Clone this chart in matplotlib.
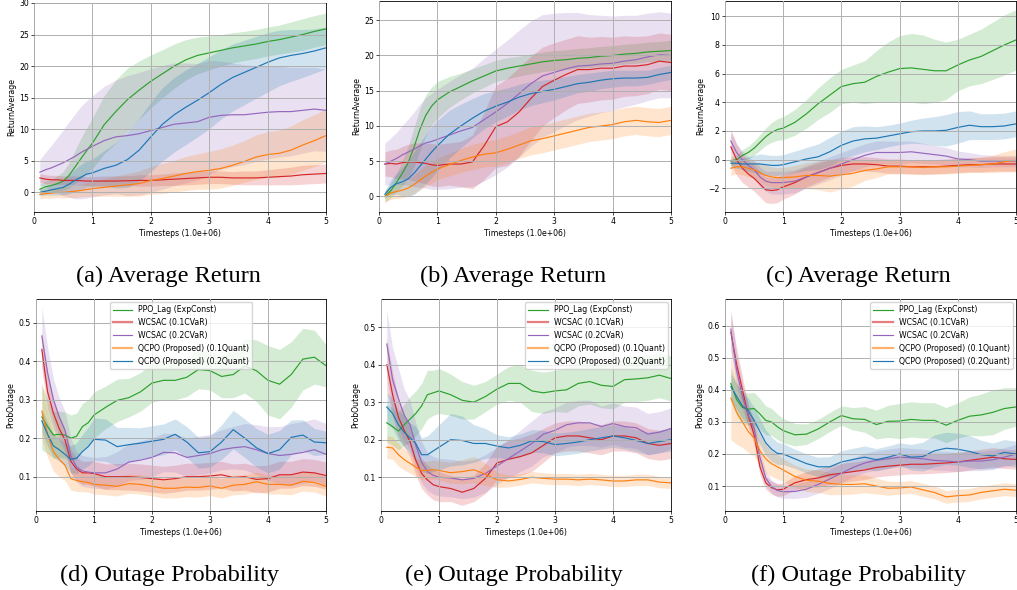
import numpy as np
import matplotlib
matplotlib.use("Agg")
import matplotlib.pyplot as plt
from matplotlib.lines import Line2D

# timesteps (x 1e6)
x = [0.1, 0.2, 0.3, 0.4, 0.5, 0.6, 0.7, 0.8, 0.9, 1.0,
     1.2, 1.4, 1.6, 1.8, 2.0, 2.2, 2.4, 2.6, 2.8, 3.0,
     3.2, 3.4, 3.6, 3.8, 4.0, 4.2, 4.4, 4.6, 4.8, 5.0]

names = ["PPO_Lag (ExpConst)", "WCSAC (0.1CVaR)", "WCSAC (0.2CVaR)",
         "QCPO (Proposed) (0.1Quant)", "QCPO (Proposed) (0.2Quant)"]
colors = ["#2ca02c", "#d62728", "#9467bd", "#ff7f0e", "#1f77b4"]

# ---- (a) average return
a_green = [0.5, 0.9, 1.1, 1.4, 1.8, 2.7, 4.0, 5.3, 6.6, 7.8, 10.7, 12.8, 14.7, 16.2, 17.6, 18.8, 20.0, 21.0, 21.7, 22.1, 22.5, 22.9, 23.2, 23.5, 23.9, 24.2, 24.6, 25.0, 25.5, 25.9]
a_green_sd = [0.8, 0.9, 1.0, 1.2, 1.5, 2.0, 2.6, 3.2, 3.6, 4.0, 4.6, 5.0, 5.0, 4.6, 4.2, 3.8, 3.5, 3.2, 2.9, 2.7, 2.5, 2.4, 2.3, 2.3, 2.3, 2.3, 2.4, 2.5, 2.5, 2.5]
a_red = [2.3, 2.1, 2.0, 2.0, 1.9, 1.9, 1.9, 1.85, 1.8, 1.8, 1.8, 1.8, 1.85, 1.9, 1.9, 2.0, 2.1, 2.2, 2.3, 2.4, 2.4, 2.3, 2.3, 2.3, 2.4, 2.5, 2.6, 2.8, 2.9, 3.0]
a_red_sd = [0.7, 0.7, 0.7, 0.7, 0.7, 0.7, 0.7, 0.7, 0.7, 0.7, 0.8, 0.8, 0.8, 0.9, 0.9, 0.9, 1.0, 1.0, 1.0, 1.0, 1.0, 1.0, 1.1, 1.1, 1.2, 1.3, 1.4, 1.5, 1.5, 1.5]
a_purple = [3.2, 3.6, 3.9, 4.3, 4.7, 5.2, 5.7, 6.3, 6.8, 7.3, 8.2, 8.8, 9.0, 9.3, 9.8, 10.3, 10.8, 11.0, 11.2, 11.9, 12.2, 12.3, 12.3, 12.5, 12.7, 12.8, 12.8, 13.0, 13.2, 13.0]
a_purple_sd = [2.0, 2.8, 3.6, 4.4, 5.2, 6.0, 6.7, 7.3, 7.7, 8.0, 8.6, 9.0, 9.5, 9.7, 9.8, 9.8, 9.7, 9.5, 9.2, 9.0, 8.6, 8.2, 7.9, 7.6, 7.4, 7.2, 7.0, 6.8, 6.6, 6.5]
a_orange = [-0.3, -0.2, -0.1, 0.0, 0.0, 0.1, 0.2, 0.3, 0.45, 0.6, 0.8, 1.0, 1.2, 1.4, 1.9, 2.2, 2.6, 3.0, 3.3, 3.5, 3.8, 4.3, 4.9, 5.6, 6.0, 6.2, 6.7, 7.5, 8.2, 9.0]
a_orange_sd = [0.7, 0.7, 0.8, 0.8, 0.9, 0.9, 1.0, 1.0, 1.1, 1.2, 1.4, 1.6, 1.8, 2.0, 2.2, 2.4, 2.5, 2.7, 2.8, 3.0, 3.1, 3.2, 3.3, 3.5, 3.6, 3.7, 3.8, 4.0, 4.1, 4.2]
a_blue = [0.0, 0.2, 0.4, 0.6, 0.8, 1.3, 1.9, 2.4, 2.9, 3.1, 3.8, 4.3, 5.2, 6.7, 8.8, 10.8, 12.3, 13.5, 14.6, 15.8, 17.1, 18.2, 19.0, 19.8, 20.6, 21.3, 21.7, 22.0, 22.4, 22.9]
a_blue_sd = [0.5, 0.6, 0.8, 1.0, 1.2, 1.5, 1.8, 2.0, 2.1, 2.2, 2.8, 3.6, 4.4, 5.0, 5.5, 5.8, 5.9, 5.9, 5.8, 5.7, 5.5, 5.3, 5.1, 4.9, 4.7, 4.4, 4.1, 3.8, 3.5, 3.3]

# ---- (b) average return
b_green = [0.0, 0.8, 2.0, 3.3, 4.8, 7.0, 9.5, 11.5, 12.8, 13.7, 14.8, 15.6, 16.4, 17.1, 17.8, 18.2, 18.5, 18.8, 19.1, 19.3, 19.4, 19.6, 19.7, 19.9, 20.0, 20.2, 20.3, 20.5, 20.6, 20.7]
b_green_sd = [0.8, 1.0, 1.3, 1.8, 2.3, 2.8, 3.0, 2.9, 2.7, 2.6, 2.2, 1.9, 1.7, 1.6, 1.5, 1.5, 1.4, 1.4, 1.4, 1.4, 1.4, 1.4, 1.4, 1.4, 1.4, 1.4, 1.4, 1.4, 1.4, 1.45]
b_red = [4.6, 4.7, 4.6, 4.8, 4.9, 4.9, 4.8, 4.7, 4.5, 4.4, 4.6, 4.6, 4.9, 7.2, 9.9, 10.6, 12.0, 13.9, 15.6, 16.5, 17.3, 18.0, 18.0, 18.2, 18.2, 18.5, 18.5, 18.7, 19.2, 19.0]
b_red_sd = [1.7, 1.9, 2.1, 2.3, 2.5, 2.7, 2.8, 2.9, 3.0, 3.0, 3.0, 3.2, 3.8, 4.8, 5.8, 6.2, 6.3, 6.0, 5.6, 5.3, 5.0, 4.8, 4.6, 4.5, 4.4, 4.3, 4.2, 4.1, 4.0, 4.0]
b_purple = [4.6, 5.0, 5.4, 5.9, 6.3, 6.7, 7.2, 7.6, 7.8, 8.1, 8.7, 9.3, 9.8, 10.9, 12.0, 13.2, 14.6, 16.0, 17.1, 17.6, 18.1, 18.5, 18.6, 18.8, 18.9, 19.2, 19.4, 19.8, 20.1, 20.0]
b_purple_sd = [3.0, 3.3, 3.7, 4.2, 4.7, 5.3, 5.9, 6.4, 6.8, 7.1, 7.6, 8.0, 8.4, 8.7, 8.9, 9.0, 9.0, 8.9, 8.7, 8.4, 8.0, 7.6, 7.2, 6.9, 6.7, 6.5, 6.3, 6.2, 6.1, 6.0]
b_orange = [0.0, 0.5, 0.7, 0.9, 1.2, 1.7, 2.3, 2.9, 3.4, 3.9, 4.5, 5.1, 5.6, 6.0, 6.2, 6.7, 7.3, 7.9, 8.2, 8.6, 9.0, 9.4, 9.8, 10.0, 10.2, 10.6, 10.8, 10.6, 10.5, 10.8]
b_orange_sd = [0.8, 0.9, 1.0, 1.1, 1.2, 1.3, 1.4, 1.5, 1.5, 1.5, 1.6, 1.7, 1.8, 1.8, 1.9, 1.9, 1.9, 2.0, 2.0, 2.0, 2.0, 2.0, 2.0, 2.0, 2.0, 2.0, 2.0, 2.0, 2.0, 2.0]
b_blue = [0.3, 1.3, 1.8, 2.1, 2.5, 3.3, 4.3, 5.3, 6.3, 7.2, 8.8, 10.0, 11.1, 12.1, 12.8, 13.4, 14.1, 14.6, 14.9, 15.2, 15.6, 16.0, 16.2, 16.5, 16.7, 16.8, 16.8, 16.9, 17.3, 17.6]
b_blue_sd = [0.5, 1.0, 1.5, 2.0, 2.5, 3.0, 3.3, 3.5, 3.6, 3.6, 3.4, 3.1, 2.8, 2.5, 2.2, 2.0, 1.8, 1.7, 1.6, 1.5, 1.4, 1.3, 1.3, 1.2, 1.2, 1.1, 1.1, 1.0, 1.0, 1.0]

# ---- (c) average return
c_green = [-0.1, 0.0, 0.3, 0.5, 0.8, 1.2, 1.6, 1.9, 2.1, 2.2, 2.6, 3.2, 3.9, 4.5, 5.1, 5.3, 5.4, 5.8, 6.1, 6.35, 6.4, 6.3, 6.2, 6.2, 6.6, 6.95, 7.2, 7.6, 8.0, 8.35]
c_green_sd = [0.3, 0.35, 0.4, 0.45, 0.5, 0.55, 0.6, 0.7, 0.75, 0.8, 0.9, 1.0, 1.1, 1.2, 1.2, 1.3, 1.5, 1.8, 2.1, 2.3, 2.4, 2.4, 2.2, 2.0, 1.8, 1.8, 1.9, 2.0, 2.1, 2.1]
c_red = [0.9, 0.0, -0.6, -1.0, -1.3, -1.7, -2.1, -2.15, -2.1, -1.9, -1.6, -1.2, -0.9, -0.6, -0.4, -0.3, -0.3, -0.35, -0.45, -0.45, -0.5, -0.5, -0.5, -0.45, -0.4, -0.35, -0.35, -0.3, -0.3, -0.3]
c_red_sd = [1.2, 1.1, 1.0, 0.9, 0.9, 0.9, 0.9, 0.9, 0.9, 0.85, 0.8, 0.7, 0.65, 0.6, 0.55, 0.5, 0.5, 0.5, 0.5, 0.5, 0.5, 0.5, 0.5, 0.5, 0.5, 0.5, 0.5, 0.5, 0.5, 0.5]
c_purple = [1.3, 0.5, 0.0, -0.4, -0.7, -1.2, -1.5, -1.6, -1.6, -1.6, -1.5, -1.2, -0.9, -0.6, -0.3, 0.0, 0.3, 0.5, 0.5, 0.5, 0.55, 0.45, 0.35, 0.25, 0.05, 0.0, -0.1, -0.1, -0.1, -0.1]
c_purple_sd = [0.6, 0.6, 0.6, 0.6, 0.6, 0.7, 0.7, 0.8, 0.8, 0.8, 0.8, 0.8, 0.8, 0.8, 0.8, 0.8, 0.8, 0.8, 0.8, 0.8, 0.75, 0.7, 0.65, 0.6, 0.55, 0.5, 0.45, 0.4, 0.4, 0.4]
c_orange = [-0.6, -0.5, -0.5, -0.6, -0.7, -0.9, -1.1, -1.2, -1.25, -1.25, -1.2, -1.1, -1.1, -1.15, -1.05, -0.95, -0.75, -0.65, -0.5, -0.5, -0.5, -0.55, -0.5, -0.5, -0.45, -0.4, -0.35, -0.3, -0.15, -0.05]
c_orange_sd = [0.5, 0.5, 0.55, 0.6, 0.6, 0.65, 0.7, 0.7, 0.7, 0.7, 0.8, 0.9, 1.0, 1.1, 1.0, 0.9, 0.7, 0.6, 0.5, 0.5, 0.5, 0.5, 0.5, 0.5, 0.5, 0.5, 0.55, 0.6, 0.7, 0.8]
c_blue = [-0.25, -0.25, -0.3, -0.3, -0.3, -0.3, -0.35, -0.4, -0.4, -0.35, -0.15, 0.05, 0.2, 0.55, 1.0, 1.3, 1.45, 1.5, 1.65, 1.8, 1.95, 2.0, 2.0, 2.05, 2.25, 2.4, 2.3, 2.3, 2.35, 2.5]
c_blue_sd = [0.3, 0.35, 0.4, 0.5, 0.6, 0.7, 0.7, 0.7, 0.7, 0.7, 0.75, 0.8, 0.9, 1.0, 1.0, 1.0, 0.9, 0.8, 0.75, 0.75, 0.8, 0.9, 1.0, 1.1, 1.1, 1.0, 0.9, 0.9, 0.9, 0.9]

# ---- (d) outage probability
d_green = [0.255, 0.23, 0.208, 0.21, 0.208, 0.2, 0.205, 0.23, 0.24, 0.26, 0.28, 0.298, 0.305, 0.32, 0.343, 0.35, 0.35, 0.358, 0.378, 0.375, 0.36, 0.365, 0.387, 0.375, 0.35, 0.34, 0.365, 0.405, 0.41, 0.388]
d_green_sd = [0.085, 0.07, 0.06, 0.06, 0.06, 0.06, 0.06, 0.06, 0.06, 0.06, 0.055, 0.055, 0.05, 0.05, 0.05, 0.05, 0.05, 0.05, 0.05, 0.05, 0.055, 0.06, 0.07, 0.08, 0.09, 0.09, 0.085, 0.08, 0.07, 0.055]
d_red = [0.43, 0.32, 0.265, 0.225, 0.195, 0.14, 0.12, 0.11, 0.11, 0.108, 0.1, 0.1, 0.1, 0.098, 0.095, 0.092, 0.095, 0.1, 0.1, 0.102, 0.105, 0.098, 0.1, 0.093, 0.095, 0.105, 0.105, 0.112, 0.11, 0.103]
d_red_sd = [0.05, 0.045, 0.04, 0.035, 0.03, 0.03, 0.03, 0.03, 0.03, 0.032, 0.033, 0.034, 0.035, 0.035, 0.035, 0.035, 0.035, 0.035, 0.035, 0.035, 0.035, 0.035, 0.035, 0.035, 0.035, 0.035, 0.035, 0.035, 0.035, 0.035]
d_purple = [0.465, 0.37, 0.3, 0.255, 0.22, 0.155, 0.125, 0.115, 0.112, 0.11, 0.11, 0.12, 0.138, 0.143, 0.15, 0.163, 0.162, 0.15, 0.155, 0.16, 0.17, 0.175, 0.178, 0.17, 0.16, 0.155, 0.158, 0.163, 0.17, 0.158]
d_purple_sd = [0.075, 0.065, 0.055, 0.05, 0.05, 0.045, 0.04, 0.04, 0.04, 0.04, 0.042, 0.045, 0.048, 0.05, 0.05, 0.05, 0.05, 0.05, 0.05, 0.05, 0.052, 0.055, 0.06, 0.065, 0.07, 0.075, 0.08, 0.08, 0.08, 0.08]
d_orange = [0.27, 0.21, 0.165, 0.145, 0.13, 0.095, 0.09, 0.087, 0.085, 0.08, 0.078, 0.075, 0.082, 0.08, 0.075, 0.07, 0.07, 0.073, 0.072, 0.076, 0.07, 0.078, 0.08, 0.087, 0.08, 0.08, 0.078, 0.088, 0.085, 0.075]
d_orange_sd = [0.07, 0.06, 0.05, 0.045, 0.04, 0.03, 0.028, 0.026, 0.025, 0.025, 0.025, 0.025, 0.025, 0.025, 0.025, 0.025, 0.025, 0.025, 0.025, 0.025, 0.025, 0.025, 0.025, 0.025, 0.025, 0.025, 0.025, 0.025, 0.025, 0.025]
d_blue = [0.245, 0.21, 0.18, 0.17, 0.158, 0.145, 0.148, 0.165, 0.178, 0.197, 0.195, 0.178, 0.183, 0.187, 0.192, 0.197, 0.21, 0.19, 0.162, 0.165, 0.19, 0.222, 0.2, 0.175, 0.16, 0.17, 0.202, 0.208, 0.19, 0.188]
d_blue_sd = [0.03, 0.03, 0.03, 0.03, 0.03, 0.035, 0.04, 0.045, 0.05, 0.055, 0.055, 0.05, 0.045, 0.04, 0.04, 0.04, 0.04, 0.04, 0.04, 0.04, 0.045, 0.05, 0.05, 0.05, 0.05, 0.05, 0.045, 0.04, 0.035, 0.03]

# ---- (e) outage probability
e_green = [0.245, 0.235, 0.223, 0.24, 0.255, 0.27, 0.29, 0.32, 0.325, 0.33, 0.32, 0.305, 0.3, 0.315, 0.335, 0.35, 0.35, 0.33, 0.325, 0.33, 0.333, 0.35, 0.355, 0.345, 0.342, 0.36, 0.362, 0.365, 0.372, 0.363]
e_green_sd = [0.05, 0.05, 0.05, 0.055, 0.06, 0.06, 0.06, 0.065, 0.06, 0.06, 0.055, 0.05, 0.045, 0.04, 0.04, 0.045, 0.05, 0.055, 0.055, 0.055, 0.06, 0.06, 0.06, 0.06, 0.06, 0.06, 0.06, 0.06, 0.06, 0.06]
e_red = [0.4, 0.32, 0.26, 0.225, 0.195, 0.145, 0.11, 0.093, 0.08, 0.075, 0.07, 0.06, 0.07, 0.097, 0.138, 0.148, 0.155, 0.165, 0.185, 0.205, 0.21, 0.21, 0.205, 0.2, 0.21, 0.21, 0.205, 0.19, 0.185, 0.19]
e_red_sd = [0.07, 0.06, 0.05, 0.045, 0.04, 0.04, 0.04, 0.04, 0.04, 0.04, 0.035, 0.035, 0.035, 0.04, 0.045, 0.05, 0.05, 0.05, 0.045, 0.04, 0.04, 0.04, 0.04, 0.04, 0.04, 0.04, 0.04, 0.04, 0.04, 0.04]
e_purple = [0.455, 0.36, 0.31, 0.265, 0.24, 0.185, 0.14, 0.115, 0.105, 0.1, 0.098, 0.093, 0.097, 0.11, 0.13, 0.15, 0.17, 0.19, 0.215, 0.225, 0.24, 0.245, 0.245, 0.235, 0.243, 0.235, 0.232, 0.215, 0.22, 0.23]
e_purple_sd = [0.09, 0.085, 0.08, 0.07, 0.065, 0.06, 0.055, 0.05, 0.05, 0.05, 0.05, 0.05, 0.05, 0.05, 0.05, 0.05, 0.055, 0.06, 0.06, 0.06, 0.06, 0.06, 0.06, 0.055, 0.055, 0.055, 0.055, 0.055, 0.055, 0.055]
e_orange = [0.18, 0.178, 0.16, 0.147, 0.137, 0.127, 0.118, 0.118, 0.12, 0.118, 0.112, 0.115, 0.12, 0.108, 0.093, 0.09, 0.094, 0.1, 0.097, 0.095, 0.095, 0.093, 0.095, 0.093, 0.09, 0.09, 0.093, 0.093, 0.087, 0.085]
e_orange_sd = [0.03, 0.03, 0.03, 0.028, 0.026, 0.025, 0.025, 0.025, 0.025, 0.025, 0.028, 0.032, 0.035, 0.03, 0.02, 0.016, 0.015, 0.015, 0.015, 0.015, 0.015, 0.015, 0.015, 0.015, 0.015, 0.015, 0.015, 0.015, 0.015, 0.015]
e_blue = [0.287, 0.27, 0.24, 0.22, 0.205, 0.19, 0.16, 0.16, 0.17, 0.18, 0.2, 0.198, 0.19, 0.19, 0.183, 0.178, 0.185, 0.197, 0.195, 0.187, 0.19, 0.194, 0.2, 0.205, 0.21, 0.205, 0.198, 0.19, 0.195, 0.2]
e_blue_sd = [0.04, 0.04, 0.04, 0.04, 0.04, 0.045, 0.045, 0.05, 0.055, 0.06, 0.07, 0.065, 0.05, 0.04, 0.03, 0.03, 0.03, 0.03, 0.03, 0.03, 0.03, 0.03, 0.03, 0.03, 0.03, 0.03, 0.03, 0.03, 0.03, 0.03]

# ---- (f) outage probability
f_green = [0.42, 0.37, 0.345, 0.34, 0.342, 0.325, 0.305, 0.3, 0.285, 0.273, 0.26, 0.262, 0.278, 0.3, 0.32, 0.31, 0.308, 0.292, 0.302, 0.303, 0.308, 0.305, 0.305, 0.29, 0.305, 0.318, 0.322, 0.33, 0.342, 0.347]
f_green_sd = [0.05, 0.05, 0.05, 0.05, 0.05, 0.048, 0.045, 0.042, 0.04, 0.038, 0.035, 0.032, 0.03, 0.03, 0.03, 0.035, 0.04, 0.045, 0.05, 0.055, 0.055, 0.055, 0.055, 0.055, 0.055, 0.06, 0.065, 0.07, 0.065, 0.06]
f_red = [0.58, 0.48, 0.4, 0.32, 0.26, 0.16, 0.11, 0.095, 0.088, 0.09, 0.11, 0.12, 0.125, 0.135, 0.14, 0.145, 0.15, 0.158, 0.162, 0.165, 0.168, 0.168, 0.17, 0.172, 0.175, 0.18, 0.185, 0.19, 0.185, 0.183]
f_red_sd = [0.06, 0.05, 0.04, 0.035, 0.03, 0.025, 0.02, 0.02, 0.02, 0.02, 0.022, 0.025, 0.028, 0.03, 0.03, 0.03, 0.03, 0.03, 0.03, 0.03, 0.03, 0.03, 0.03, 0.03, 0.03, 0.03, 0.03, 0.03, 0.03, 0.03]
f_purple = [0.59, 0.46, 0.38, 0.32, 0.28, 0.19, 0.125, 0.098, 0.086, 0.082, 0.083, 0.09, 0.105, 0.122, 0.14, 0.158, 0.172, 0.18, 0.185, 0.19, 0.188, 0.185, 0.18, 0.178, 0.175, 0.178, 0.178, 0.182, 0.19, 0.2]
f_purple_sd = [0.06, 0.05, 0.04, 0.035, 0.03, 0.025, 0.022, 0.02, 0.02, 0.02, 0.022, 0.025, 0.028, 0.03, 0.03, 0.03, 0.03, 0.03, 0.03, 0.03, 0.03, 0.03, 0.03, 0.03, 0.03, 0.03, 0.03, 0.03, 0.03, 0.03]
f_orange = [0.375, 0.33, 0.3, 0.27, 0.25, 0.21, 0.185, 0.17, 0.16, 0.15, 0.13, 0.118, 0.115, 0.108, 0.105, 0.105, 0.107, 0.1, 0.093, 0.094, 0.097, 0.088, 0.08, 0.066, 0.07, 0.072, 0.08, 0.085, 0.09, 0.087]
f_orange_sd = [0.13, 0.1, 0.08, 0.065, 0.055, 0.05, 0.045, 0.04, 0.038, 0.036, 0.035, 0.035, 0.035, 0.035, 0.032, 0.03, 0.028, 0.025, 0.022, 0.02, 0.02, 0.02, 0.02, 0.02, 0.02, 0.02, 0.02, 0.02, 0.02, 0.02]
f_blue = [0.41, 0.38, 0.35, 0.335, 0.305, 0.27, 0.235, 0.215, 0.202, 0.2, 0.185, 0.17, 0.16, 0.16, 0.175, 0.183, 0.19, 0.182, 0.19, 0.2, 0.19, 0.192, 0.21, 0.218, 0.215, 0.208, 0.198, 0.194, 0.205, 0.2]
f_blue_sd = [0.04, 0.04, 0.04, 0.04, 0.04, 0.04, 0.04, 0.038, 0.035, 0.033, 0.03, 0.03, 0.03, 0.032, 0.035, 0.035, 0.035, 0.035, 0.035, 0.035, 0.04, 0.045, 0.05, 0.05, 0.05, 0.05, 0.045, 0.04, 0.04, 0.04]

plt.rcParams["font.family"] = ["DejaVu Sans"]
plt.rcParams["font.size"] = 5.6
plt.rcParams["axes.linewidth"] = 0.6
plt.rcParams["xtick.major.size"] = 2.0
plt.rcParams["ytick.major.size"] = 2.0
plt.rcParams["xtick.major.width"] = 0.5
plt.rcParams["ytick.major.width"] = 0.5
plt.rcParams["xtick.major.pad"] = 1.8
plt.rcParams["ytick.major.pad"] = 1.8
plt.rcParams["axes.labelpad"] = 2.2

W, H = 1017, 590
fig = plt.figure(figsize=(W / 100, H / 100), dpi=100)

# panel boxes in pixels: left, top, right, bottom
panels = [
    dict(box=(34, 3, 326, 212), ylim=(-3.1, 30), ylabel="ReturnAverage", cap="(a) Average Return", legend=None,
         data=[(a_green, a_green_sd), (a_red, a_red_sd), (a_purple, a_purple_sd), (a_orange, a_orange_sd), (a_blue, a_blue_sd)]),
    dict(box=(379, 0.5, 671, 212), ylim=(-2.2, 27.8), ylabel="ReturnAverage", cap="(b) Average Return", legend=None,
         data=[(b_green, b_green_sd), (b_red, b_red_sd), (b_purple, b_purple_sd), (b_orange, b_orange_sd), (b_blue, b_blue_sd)]),
    dict(box=(725, 0.5, 1016, 212), ylim=(-3.65, 11.1), ylabel="ReturnAverage", cap="(c) Average Return", legend=None,
         data=[(c_green, c_green_sd), (c_red, c_red_sd), (c_purple, c_purple_sd), (c_orange, c_orange_sd), (c_blue, c_blue_sd)]),
    dict(box=(36, 299, 326, 511), ylim=(0.011, 0.561), ylabel="ProbOutage", cap="(d) Outage Probability", legend="upper center",
         data=[(d_green, d_green_sd), (d_red, d_red_sd), (d_purple, d_purple_sd), (d_orange, d_orange_sd), (d_blue, d_blue_sd)]),
    dict(box=(381, 299, 671, 511), ylim=(0.010, 0.575), ylabel="ProbOutage", cap="(e) Outage Probability", legend="upper right",
         data=[(e_green, e_green_sd), (e_red, e_red_sd), (e_purple, e_purple_sd), (e_orange, e_orange_sd), (e_blue, e_blue_sd)]),
    dict(box=(725, 299, 1016, 511), ylim=(0.022, 0.684), ylabel="ProbOutage", cap="(f) Outage Probability", legend="upper right",
         data=[(f_green, f_green_sd), (f_red, f_red_sd), (f_purple, f_purple_sd), (f_orange, f_orange_sd), (f_blue, f_blue_sd)]),
]

xs = np.array(x)
for p in panels:
    l, t, r, b = p["box"]
    ax = fig.add_axes([l / W, 1 - b / H, (r - l) / W, (b - t) / H])
    for (mean, sd), c in zip(p["data"], colors):
        m = np.array(mean)
        s = np.array(sd)
        ax.fill_between(xs, m - s, m + s, color=c, alpha=0.2, linewidth=0)
        ax.plot(xs, m, color=c, linewidth=0.85)
    ax.set_xlim(0, 5)
    ax.set_ylim(*p["ylim"])
    ax.grid(True, color="#b0b0b0", linewidth=0.7)
    ax.set_axisbelow(False)
    ax.set_xlabel("Timesteps (1.0e+06)")
    ax.set_ylabel(p["ylabel"])

    if p["legend"]:
        handles = []
        for name, c in zip(names, colors):
            if name in ("WCSAC (0.1CVaR)", "QCPO (Proposed) (0.1Quant)"):
                handles.append(Line2D([], [], color=c, linewidth=1.6, alpha=0.6))
            else:
                handles.append(Line2D([], [], color=c, linewidth=0.85))
        ax.legend(handles, names, loc=p["legend"], fontsize=5.6, handlelength=2.5,
                  framealpha=0.8, borderaxespad=0.4)

    cx = (l + r) / 2 - 12
    fig.text(cx / W, 1 - (b + 70) / H, p["cap"], family="Liberation Serif", fontsize=17.5,
             ha="center", va="baseline")

fig.savefig("out.png", dpi=100)
